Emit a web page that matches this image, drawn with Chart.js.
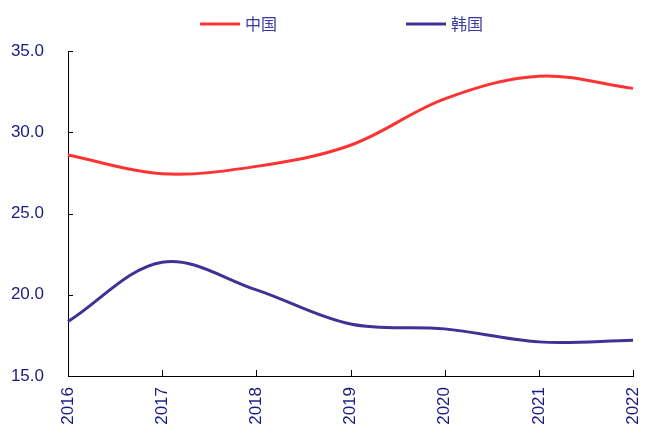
<!DOCTYPE html>
<html>
<head>
<meta charset="utf-8">
<script src="https://cdn.jsdelivr.net/npm/chart.js@4/dist/chart.umd.min.js"></script>
<style>
  html, body { margin: 0; padding: 0; background: #fff; }
  #wrap { width: 646px; height: 426px; position: relative; }
</style>
</head>
<body>
<div id="wrap"><canvas id="chart"></canvas></div>
<script>
const years = ['2016', '2017', '2018', '2019', '2020', '2021', '2022'];
const china = [28.6, 27.45, 27.9, 29.2, 32.05, 33.45, 32.7];
const korea = [18.35, 22.0, 20.3, 18.2, 17.9, 17.1, 17.2];
const yTicks = [15, 20, 25, 30, 35];

const tickColor = '#1a1a80';

// Excel-style ticks pointing into the plot
const innerTicks = {
  id: 'innerTicks',
  afterDraw(chart) {
    const ctx = chart.ctx;
    const x = chart.scales.x, y = chart.scales.y;
    ctx.save();
    ctx.strokeStyle = '#000';
    ctx.lineWidth = 1;
    ctx.beginPath();
    yTicks.forEach(v => {
      const py = Math.round(y.getPixelForValue(v)) + 0.5;
      ctx.moveTo(x.left, py);
      ctx.lineTo(x.left + 5, py);
    });
    years.forEach((_, i) => {
      const px = Math.round(x.getPixelForValue(i)) + 0.5;
      ctx.moveTo(px, y.bottom);
      ctx.lineTo(px, y.bottom - 6);
    });
    ctx.stroke();
    ctx.restore();
  }
};

// legend with wide spacing between the two entries
const wideLegend = {
  id: 'wideLegend',
  afterDraw(chart) {
    const ctx = chart.ctx;
    const area = chart.chartArea;
    const lineLen = 40, gapText = 5, gapItem = 129, cy = 24;
    ctx.save();
    ctx.font = '16px "Noto Sans CJK SC", sans-serif';
    ctx.textBaseline = 'middle';
    const items = chart.data.datasets.map(ds => ({
      text: ds.label, color: ds.borderColor, w: ctx.measureText(ds.label).width
    }));
    const total = items.reduce((s, it) => s + lineLen + gapText + it.w, 0) + gapItem * (items.length - 1);
    let x = (area.left + area.right) / 2 - total / 2 - 9;
    items.forEach(it => {
      ctx.strokeStyle = it.color;
      ctx.lineWidth = 3;
      ctx.beginPath();
      ctx.moveTo(x, cy);
      ctx.lineTo(x + lineLen, cy);
      ctx.stroke();
      ctx.fillStyle = '#3a3aa0';
      ctx.fillText(it.text, x + lineLen + gapText, cy);
      x += lineLen + gapText + it.w + gapItem;
    });
    ctx.restore();
  }
};

const ctx = document.getElementById('chart').getContext('2d');
new Chart(ctx, {
  type: 'line',
  data: {
    labels: years,
    datasets: [
      {
        label: '中国',
        data: china,
        borderColor: '#ff3333',
        backgroundColor: '#ff3333',
        borderWidth: 3,
        pointRadius: 0,
        tension: 0.35,
        fill: false
      },
      {
        label: '韩国',
        data: korea,
        borderColor: '#3f3195',
        backgroundColor: '#3f3195',
        borderWidth: 3,
        pointRadius: 0,
        tension: 0.35,
        fill: false
      }
    ]
  },
  options: {
    responsive: true,
    maintainAspectRatio: false,
    animation: false,
    layout: {
      padding: { left: 0, right: 13, top: 51, bottom: 0 }
    },
    plugins: {
      legend: { display: false },
      tooltip: { enabled: false }
    },
    scales: {
      x: {
        grid: { display: true, drawOnChartArea: false, drawTicks: false },
        border: { display: true, color: '#000', width: 1 },
        afterFit(scale) {
          scale.height = 50;
          scale.paddingLeft = 0;
          scale.paddingRight = 0;
        },
        ticks: {
          color: tickColor,
          minRotation: 90,
          maxRotation: 90,
          padding: 11,
          font: { family: '"Liberation Sans", Arial, sans-serif', size: 17 }
        }
      },
      y: {
        min: 15,
        max: 35,
        afterFit(scale) { scale.width = 68; },
        afterBuildTicks(scale) { scale.ticks = yTicks.map(v => ({ value: v })); },
        grid: { display: true, drawOnChartArea: false, drawTicks: false },
        border: { display: true, color: '#000', width: 1 },
        ticks: {
          color: tickColor,
          padding: 24,
          callback: v => v.toFixed(1),
          font: { family: '"Liberation Sans", Arial, sans-serif', size: 17 }
        }
      }
    }
  },
  plugins: [innerTicks, wideLegend]
});
</script>
</body>
</html>
